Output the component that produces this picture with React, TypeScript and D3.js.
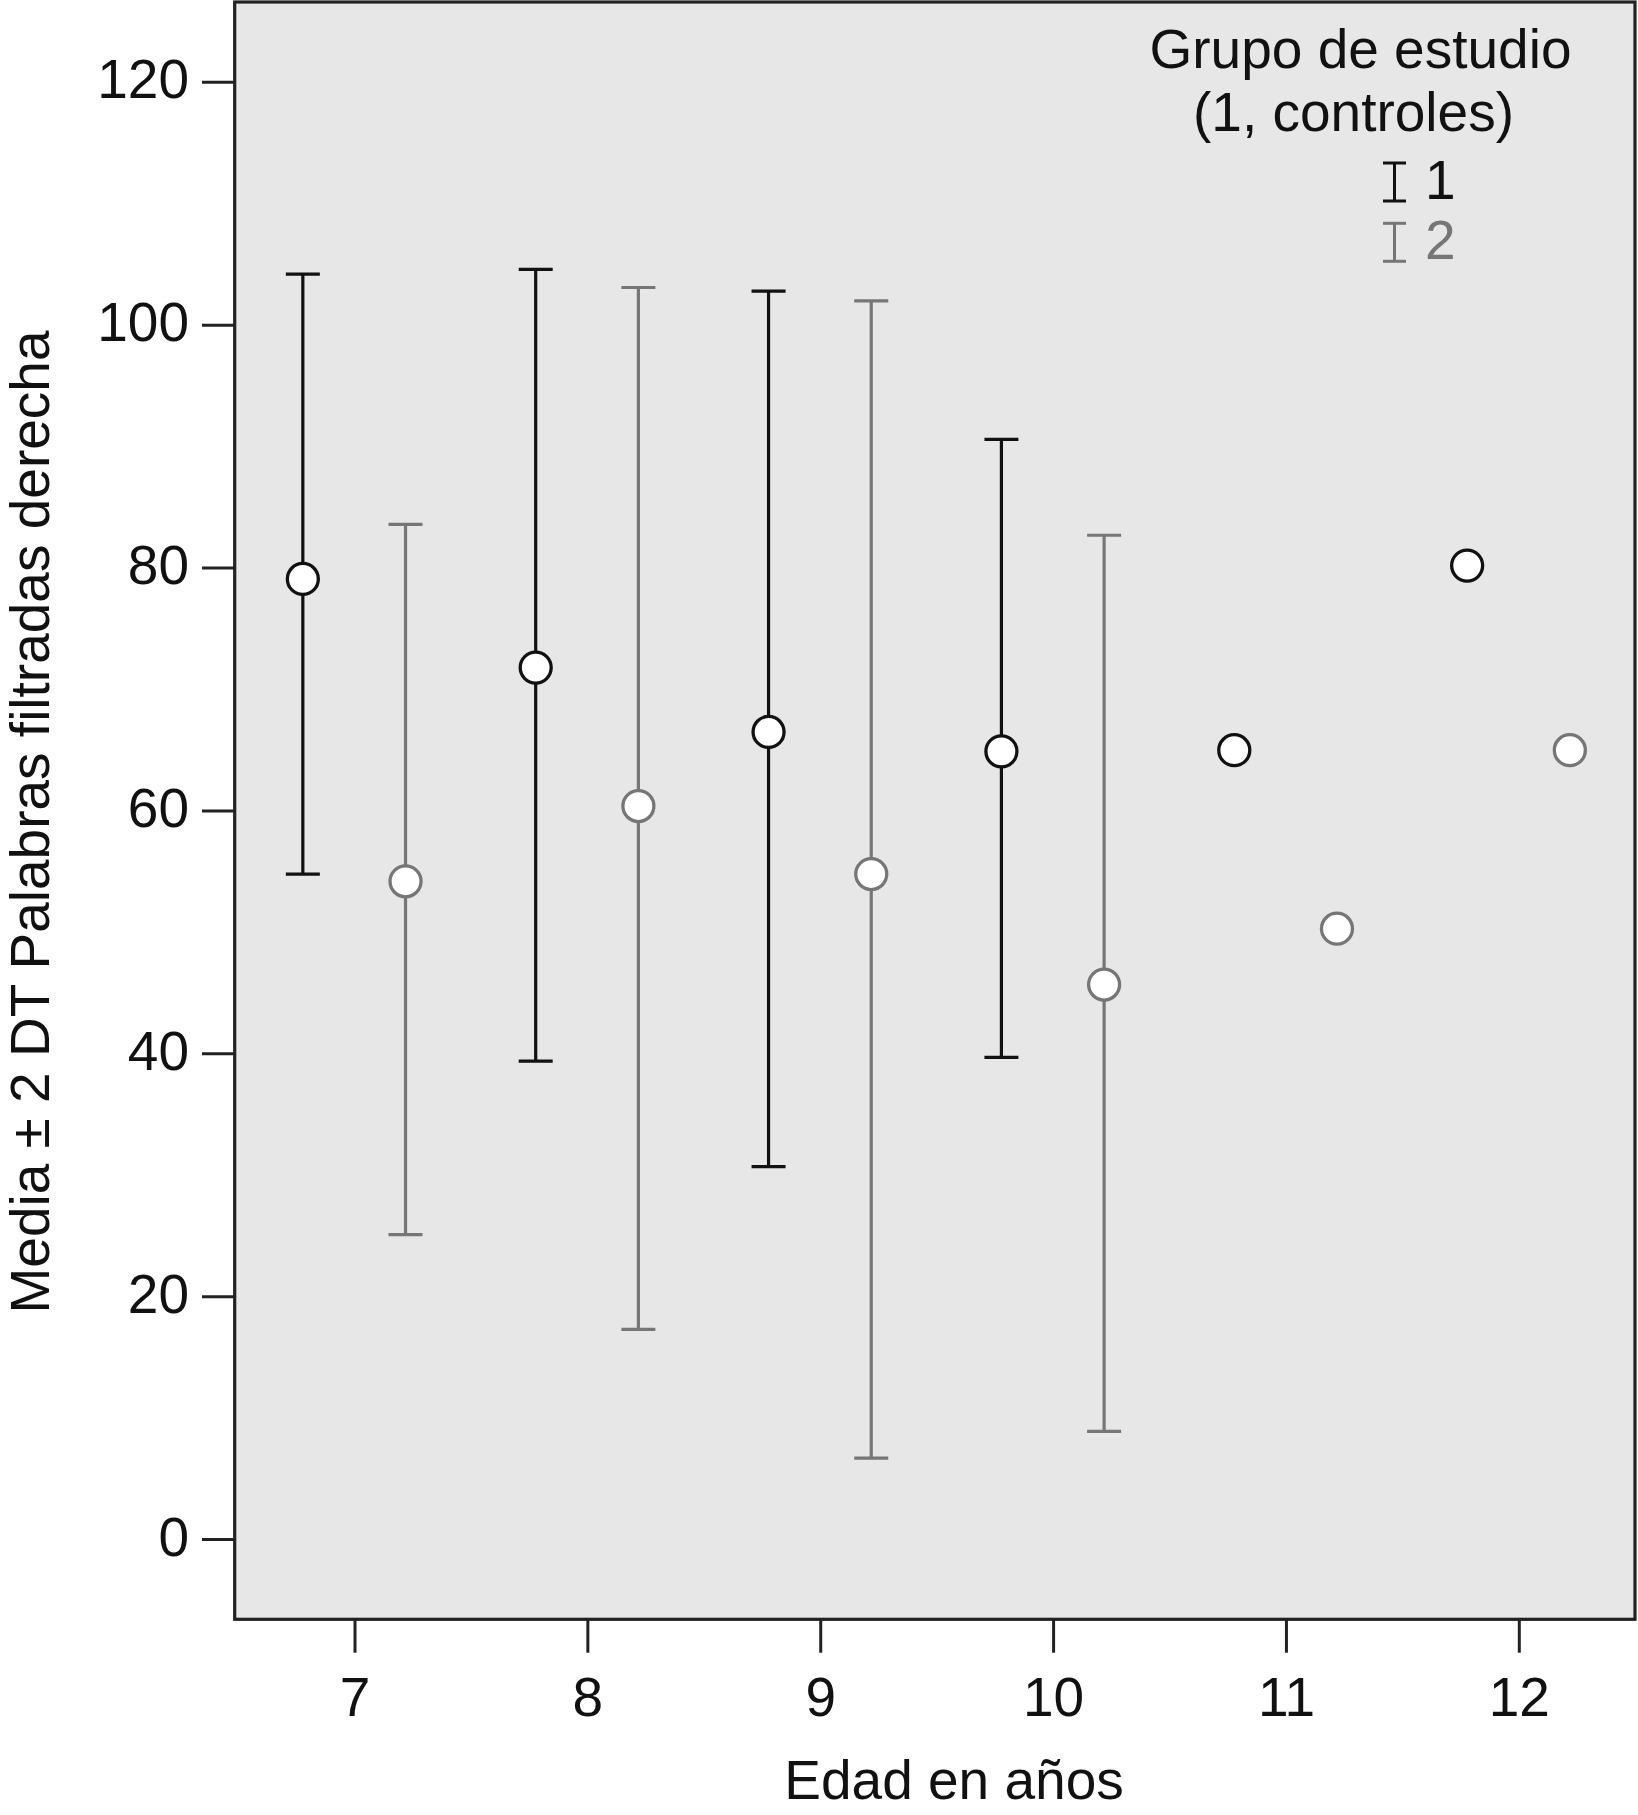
import React from "react";
import * as d3 from "d3";

const ages = [7, 8, 9, 10, 11, 12];
const g1Mean = [79.1, 71.8, 66.5, 64.9, 65.0, 80.2];
const g1Upper: (number | null)[] = [104.2, 104.6, 102.8, 90.6, null, null];
const g1Lower: (number | null)[] = [54.8, 39.4, 30.7, 39.7, null, null];
const g2Mean = [54.2, 60.4, 54.8, 45.7, 50.3, 65.0];
const g2Upper: (number | null)[] = [83.6, 103.1, 102.0, 82.7, null, null];
const g2Lower: (number | null)[] = [25.1, 17.3, 6.7, 8.9, null, null];
const yTicks = [0, 20, 40, 60, 80, 100, 120];
const xTicks = [7, 8, 9, 10, 11, 12];
const groupLabels = ["1", "2"];
const legendTitle = ["Grupo de estudio", "(1, controles)"];
const xTitle = "Edad en años";
const yTitle = "Media ± 2 DT Palabras filtradas derecha";

const W = 1638;
const H = 1815;
const plotL = 234.7;
const plotR = 1635;
const plotT = 2;
const plotB = 1619.3;
const FONT = "'Liberation Sans', Arial, Helvetica, sans-serif";
const FS = 55;
const BLACK = "#111111";
const GRAY = "#767676";
const AXIS = "#222222";

const x = d3.scaleLinear().domain([7, 12]).range([355, 1519.3]);
const y = d3.scaleLinear().domain([0, 120]).range([1539.5, 82.3]);
const OFFSET1 = 0.224;
const OFFSET2 = 0.217;
const CAP = 17;
const R = 15.5;

type Pt = { age: number; mean: number; up: number | null; lo: number | null };

function Series({ data, dx, color }: { data: Pt[]; dx: number; color: string }) {
  return (
    <g>
      {data.map((d, i) => {
        const cx = x(d.age + dx);
        return (
          <g key={i}>
            {d.up !== null && d.lo !== null && (
              <g stroke={color} strokeWidth={3.2} fill="none">
                <line x1={cx} x2={cx} y1={y(d.up)} y2={y(d.lo)} />
                <line x1={cx - CAP} x2={cx + CAP} y1={y(d.up)} y2={y(d.up)} />
                <line x1={cx - CAP} x2={cx + CAP} y1={y(d.lo)} y2={y(d.lo)} />
              </g>
            )}
            <circle cx={cx} cy={y(d.mean)} r={R} fill="#ffffff" stroke={color} strokeWidth={3.3} />
          </g>
        );
      })}
    </g>
  );
}

export default function App() {
  const s1: Pt[] = ages.map((a, i) => ({ age: a, mean: g1Mean[i], up: g1Upper[i], lo: g1Lower[i] }));
  const s2: Pt[] = ages.map((a, i) => ({ age: a, mean: g2Mean[i], up: g2Upper[i], lo: g2Lower[i] }));
  const legendColors = [BLACK, GRAY];
  return (
    <svg
      width={W}
      height={H}
      viewBox={`0 0 ${W} ${H}`}
      style={{ position: "absolute", left: 0, top: 0, display: "block", background: "#ffffff" }}
      fontFamily={FONT}
    >
      <rect x={0} y={0} width={W} height={H} fill="#ffffff" />
      <rect x={plotL} y={plotT} width={plotR - plotL} height={plotB - plotT} fill="#e7e7e7" />
      {/* y ticks */}
      {yTicks.map((t) => (
        <g key={"y" + t}>
          <line x1={202} x2={plotL} y1={y(t)} y2={y(t)} stroke={AXIS} strokeWidth={3} />
          <text x={189} y={y(t) + 16} textAnchor="end" fontSize={FS} fill={BLACK}>
            {t}
          </text>
        </g>
      ))}
      {/* x ticks */}
      {xTicks.map((t) => (
        <g key={"x" + t}>
          <line x1={x(t)} x2={x(t)} y1={plotB} y2={1652.7} stroke={AXIS} strokeWidth={3} />
          <text x={x(t)} y={1716} textAnchor="middle" fontSize={FS} fill={BLACK}>
            {t}
          </text>
        </g>
      ))}
      <Series data={s2} dx={OFFSET2} color={GRAY} />
      <Series data={s1} dx={-OFFSET1} color={BLACK} />
      {/* frame */}
      <rect
        x={plotL}
        y={plotT}
        width={plotR - plotL}
        height={plotB - plotT}
        fill="none"
        stroke={AXIS}
        strokeWidth={3.2}
      />
      {/* legend */}
      <text x={1360.5} y={68} textAnchor="middle" fontSize={FS} fill={BLACK}>
        {legendTitle[0]}
      </text>
      <text x={1353.5} y={131} textAnchor="middle" fontSize={FS} fill={BLACK}>
        {legendTitle[1]}
      </text>
      {groupLabels.map((g, i) => {
        const top = 163 + i * 60.3;
        const bot = 201 + i * 60.3;
        const lx = 1394.5;
        const c = legendColors[i];
        return (
          <g key={"leg" + g}>
            <g stroke={c} strokeWidth={3} fill="none">
              <line x1={lx} x2={lx} y1={top} y2={bot} />
              <line x1={lx - 11.5} x2={lx + 11.5} y1={top} y2={top} />
              <line x1={lx - 11.5} x2={lx + 11.5} y1={bot} y2={bot} />
            </g>
            <text x={1425} y={bot - 2} fontSize={FS} fill={c}>
              {g}
            </text>
          </g>
        );
      })}
      {/* axis titles */}
      <text x={954} y={1799} textAnchor="middle" fontSize={FS} fill={BLACK}>
        {xTitle}
      </text>
      <text
        transform={`translate(49.3, 822) rotate(-90)`}
        textAnchor="middle"
        fontSize={FS}
        fill={BLACK}
      >
        {yTitle}
      </text>
    </svg>
  );
}
